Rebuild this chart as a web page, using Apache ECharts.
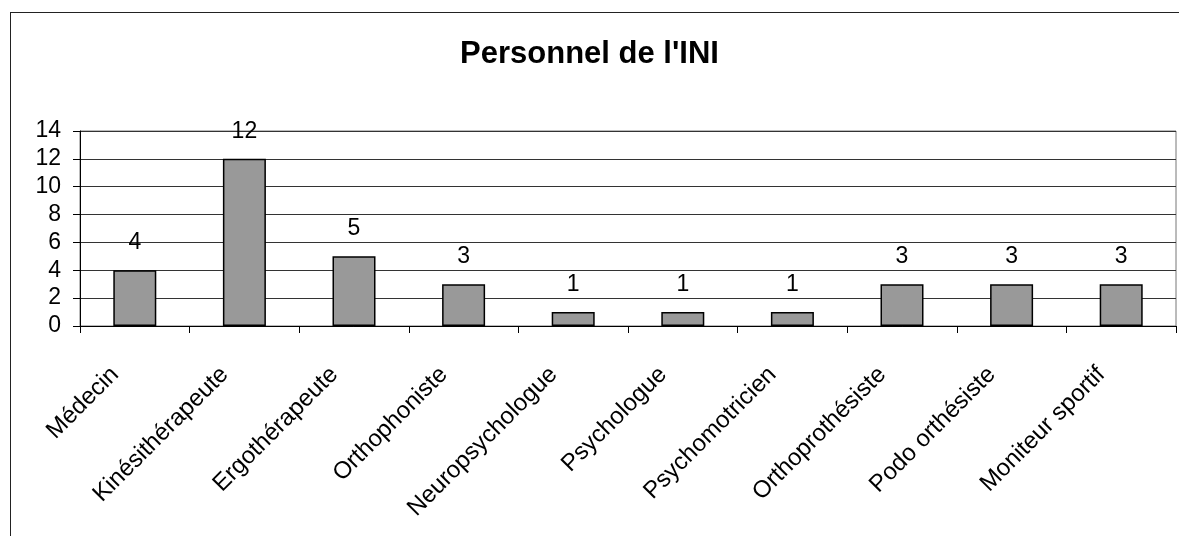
<!DOCTYPE html>
<html>
<head>
<meta charset="utf-8">
<script src="https://cdn.jsdelivr.net/npm/echarts@6/dist/echarts.min.js"></script>
<style>
  html, body { margin: 0; padding: 0; background: #fff; overflow: hidden; }
  #frame {
    position: absolute; left: 10px; top: 12px; width: 1300px; height: 700px;
    border: 1.5px solid #222;
  }
  #chart { position: absolute; left: 0; top: 0; width: 1179px; height: 536px; }
</style>
</head>
<body>
<div id="frame"></div>
<div id="chart"></div>
<script>
const categories = ['Médecin', 'Kinésithérapeute', 'Ergothérapeute', 'Orthophoniste', 'Neuropsychologue',
  'Psychologue', 'Psychomotricien', 'Orthoprothésiste', 'Podo orthésiste', 'Moniteur sportif']
const counts = [4, 12, 5, 3, 1, 1, 1, 3, 3, 3]
const yTicks = [0, 2, 4, 6, 8, 10, 12, 14]

const font = "'Liberation Sans', Arial, sans-serif"
const chart = echarts.init(document.getElementById('chart'))

chart.setOption({
  animation: false,
  title: {
    text: "Personnel de l'INI",
    left: 'center',
    top: 34,
    textStyle: { fontFamily: font, fontSize: 31, fontWeight: 'bold', color: '#000' },
  },
  grid: {
    left: 80,
    right: 3,
    top: 131,
    bottom: 210,
    show: true,
    borderColor: '#777',
    borderWidth: 1,
  },
  xAxis: {
    type: 'category',
    data: categories,
    axisLine: { lineStyle: { color: '#000', width: 1 } },
    axisTick: { show: true, length: 7, lineStyle: { color: '#000' } },
    axisLabel: {
      rotate: 45,
      interval: 0,
      margin: 25,
      padding: [0, 28, 0, 0],
      fontFamily: font,
      fontSize: 24,
      color: '#000',
    },
  },
  yAxis: {
    type: 'value',
    min: yTicks[0],
    max: yTicks[yTicks.length - 1],
    interval: 2,
    axisLine: { show: true, lineStyle: { color: '#000', width: 1 } },
    axisTick: { show: true, length: 7, lineStyle: { color: '#000' } },
    axisLabel: { margin: 19, fontFamily: font, fontSize: 23, color: '#000' },
    splitLine: { lineStyle: { color: '#333', width: 1 } },
  },
  series: [
    {
      type: 'bar',
      data: counts,
      barWidth: 43,
      itemStyle: { color: '#999999', borderColor: '#000', borderWidth: 1.5 },
      label: {
        show: true,
        position: 'top',
        distance: 16,
        fontFamily: font,
        fontSize: 23,
        color: '#000',
      },
    },
  ],
})
</script>
</body>
</html>
